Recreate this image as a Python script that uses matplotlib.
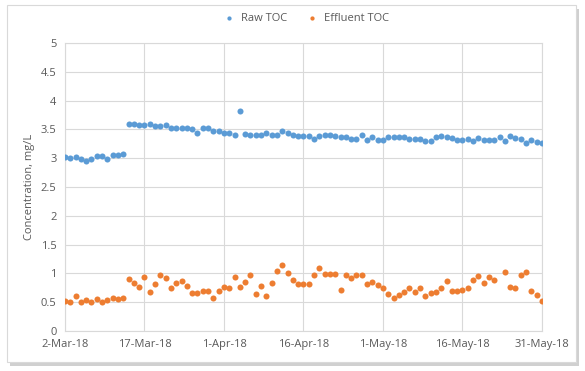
import numpy as np
import pandas as pd
import matplotlib.pyplot as plt
from matplotlib.patches import Rectangle

plt.rcParams['font.family'] = ['Open Sans', 'DejaVu Sans']

# daily samples, 2-Mar-18 .. 31-May-18
dates = pd.date_range('2018-03-02', '2018-05-31', freq='D')

raw_toc = [3.02, 3.01, 3.02, 2.98, 2.95, 2.98, 3.04, 3.04, 2.99, 3.06, 3.06, 3.08,
           3.60, 3.59, 3.58, 3.57, 3.59, 3.56, 3.56, 3.57, 3.52, 3.53, 3.52, 3.52,
           3.51, 3.44, 3.52, 3.52, 3.47, 3.47, 3.44, 3.43, 3.41, 3.82, 3.42, 3.40,
           3.41, 3.40, 3.44, 3.41, 3.40, 3.47, 3.44, 3.40, 3.39, 3.39, 3.38, 3.34,
           3.38, 3.40, 3.40, 3.38, 3.37, 3.36, 3.33, 3.33, 3.41, 3.32, 3.36, 3.31,
           3.31, 3.37, 3.36, 3.36, 3.37, 3.33, 3.33, 3.34, 3.30, 3.30, 3.37, 3.39,
           3.37, 3.35, 3.32, 3.32, 3.33, 3.29, 3.35, 3.32, 3.32, 3.32, 3.37, 3.29,
           3.39, 3.35, 3.34, 3.26, 3.31, 3.28, 3.27]

effluent_toc = [0.52, 0.51, 0.61, 0.51, 0.54, 0.51, 0.55, 0.50, 0.54, 0.57, 0.55, 0.57,
                0.90, 0.84, 0.76, 0.94, 0.68, 0.82, 0.97, 0.92, 0.74, 0.84, 0.86, 0.78,
                0.66, 0.66, 0.69, 0.70, 0.58, 0.70, 0.77, 0.75, 0.94, 0.77, 0.85, 0.97,
                0.65, 0.78, 0.61, 0.84, 1.05, 1.14, 1.00, 0.88, 0.82, 0.81, 0.82, 0.98,
                1.09, 0.99, 0.99, 0.99, 0.72, 0.98, 0.92, 0.97, 0.97, 0.82, 0.85, 0.79,
                0.75, 0.64, 0.58, 0.63, 0.68, 0.74, 0.68, 0.75, 0.61, 0.66, 0.68, 0.74,
                0.86, 0.69, 0.69, 0.71, 0.74, 0.88, 0.96, 0.84, 0.94, 0.89, np.nan, 1.03,
                0.76, 0.75, 0.98, 1.02, 0.69, 0.62, 0.52]

yticks = [0, 0.5, 1, 1.5, 2, 2.5, 3, 3.5, 4, 4.5, 5]
ytick_labels = ['0', '0.5', '1', '1.5', '2', '2.5', '3', '3.5', '4', '4.5', '5']

blue = '#5B9BD5'
orange = '#ED7D31'
grey = '#595959'

fig = plt.figure(figsize=(5.85, 3.71), dpi=100)

# chart area frame with a soft shadow
fig.patches.append(Rectangle((10/585, 1 - 366/371), 569/585, 357/371, transform=fig.transFigure,
                             facecolor='#D0D0D0', edgecolor='none', zorder=0))
fig.patches.append(Rectangle((7/585, 1 - 362/371), 569/585, 357/371, transform=fig.transFigure,
                             facecolor='white', edgecolor='#D9D9D9', linewidth=0.8, zorder=1))

ax = fig.add_axes([65/585, 1 - 331/371, 477/585, 288/371])
ax.set_zorder(2)
ax.patch.set_alpha(0)

ax.scatter(dates, raw_toc, s=19, color=blue, label='Raw TOC', zorder=3, linewidths=0)
ax.scatter(dates, effluent_toc, s=19, color=orange, label='Effluent TOC', zorder=3, linewidths=0)

ax.set_xlim(pd.Timestamp('2018-03-02'), pd.Timestamp('2018-05-31'))
ax.set_ylim(0, 5)
xt = pd.date_range('2018-03-02', '2018-05-31', freq='15D')
ax.set_xticks(xt)
ax.set_xticklabels([d.strftime('%-d-%b-%y') for d in xt])
ax.set_yticks(yticks)
ax.set_yticklabels(ytick_labels)

ax.grid(True, color='#D9D9D9', linewidth=0.8)
ax.set_axisbelow(True)
for s in ax.spines.values():
    s.set_color('#D9D9D9')
    s.set_linewidth(0.8)
ax.tick_params(length=0, labelsize=8, colors=grey, pad=6)

ax.set_ylabel('Concentration, mg/L', fontsize=8, color=grey, labelpad=4)

ax.legend(loc='lower center', bbox_to_anchor=(0.5, 1.03), ncol=2, frameon=False,
          fontsize=8, labelcolor=grey, handletextpad=0.1, columnspacing=1.2,
          markerscale=0.7)

plt.savefig('out.png', dpi=100)
